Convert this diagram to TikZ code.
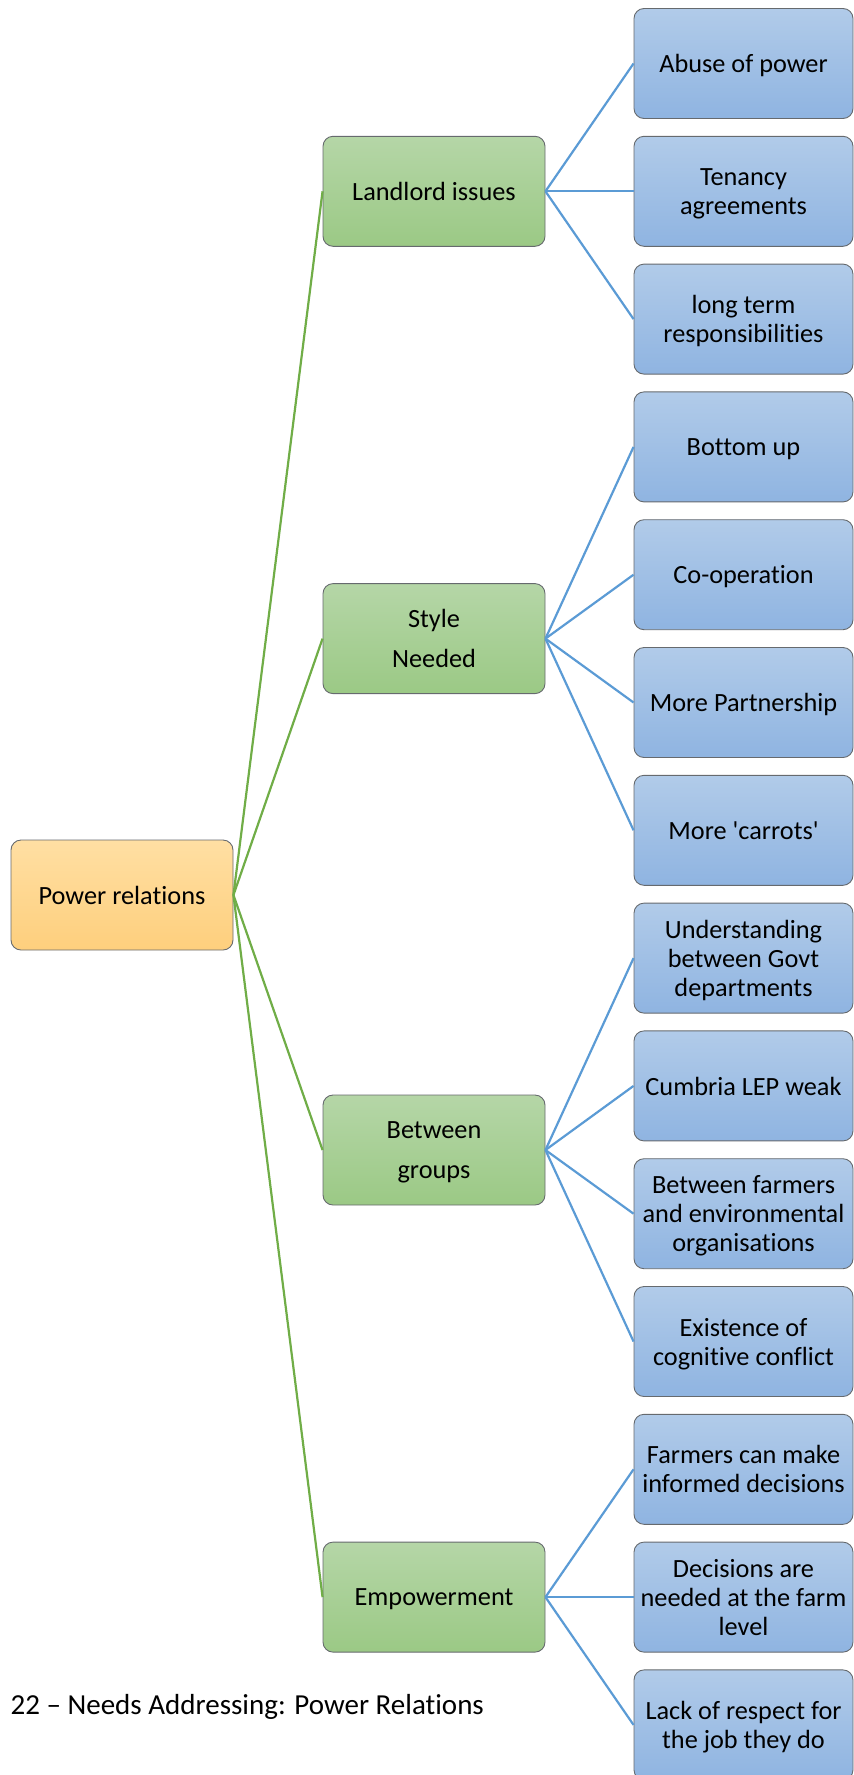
\documentclass[tikz,border=0pt]{standalone}
\usepackage{fontspec}
\newfontfamily\calfont{Carlito}[Ligatures=NoCommon]
\definecolor{rootA}{HTML}{FFDFA3}
\definecolor{rootB}{HTML}{FECF7D}
\definecolor{midA}{HTML}{B5D6A7}
\definecolor{midB}{HTML}{9BC985}
\definecolor{leafA}{HTML}{B1CBE9}
\definecolor{leafB}{HTML}{8FB4E1}
\definecolor{boxborder}{HTML}{666A6E}
\definecolor{lineG}{HTML}{70AD47}
\definecolor{lineB}{HTML}{5B9BD5}
\begin{document}
\begin{tikzpicture}[x=1pt,y=-1pt,
  box/.style={draw=boxborder, line width=0.9pt, rounded corners=10pt, align=center, inner sep=2pt, text depth=0pt, minimum height=110pt},
  rootbox/.style={box, top color=rootA, bottom color=rootB, minimum width=222pt, font=\calfont\fontsize{26.3}{29}\selectfont},
  midbox/.style={box, top color=midA, bottom color=midB, minimum width=222pt, font=\calfont\fontsize{26.3}{40.5}\selectfont},
  leafbox/.style={box, top color=leafA, bottom color=leafB, minimum width=219pt, font=\calfont\fontsize{26.3}{29}\selectfont},
  gline/.style={draw=lineG, line width=2.2pt},
  bline/.style={draw=lineB, line width=2.2pt}]
\useasboundingbox (0,0) rectangle (854,1775);

% root
\node[rootbox] (root) at (122,895) {Power relations};

% mid level
\node[midbox] (m1) at (434,191.3) {Landlord issues};
\node[midbox] (m2) at (434,638.6) {Style\\Needed};
\node[midbox] (m3) at (434,1150) {Between\\groups};
\node[midbox] (m4) at (434,1597.1) {Empowerment};

% leaves
\node[leafbox] (l0)  at (743.5,63.5)   {Abuse of power};
\node[leafbox] (l1)  at (743.5,191.3)  {Tenancy\\agreements};
\node[leafbox] (l2)  at (743.5,319.1)  {long term\\responsibilities};
\node[leafbox] (l3)  at (743.5,446.9)  {Bottom up};
\node[leafbox] (l4)  at (743.5,574.7)  {Co-operation};
\node[leafbox] (l5)  at (743.5,702.5)  {More Partnership};
\node[leafbox] (l6)  at (743.5,830.3)  {More 'carrots'};
\node[leafbox] (l7)  at (743.5,958.1)  {Understanding\\between Govt\\departments};
\node[leafbox] (l8)  at (743.5,1085.9) {Cumbria LEP weak};
\node[leafbox] (l9)  at (743.5,1213.7) {Between farmers\\and environmental\\organisations};
\node[leafbox] (l10) at (743.5,1341.5) {Existence of\\cognitive conflict};
\node[leafbox] (l11) at (743.5,1469.3) {Farmers can make\\informed decisions};
\node[leafbox] (l12) at (743.5,1597.1) {Decisions are\\needed at the farm\\level};
\node[leafbox] (l13) at (743.5,1724.9) {Lack of respect for\\the job they do};

% connectors
\foreach \m in {m1,m2,m3,m4} \draw[gline] (root.east) -- (\m.west);
\foreach \l in {l0,l1,l2} \draw[bline] (m1.east) -- (\l.west);
\foreach \l in {l3,l4,l5,l6} \draw[bline] (m2.east) -- (\l.west);
\foreach \l in {l7,l8,l9,l10} \draw[bline] (m3.east) -- (\l.west);
\foreach \l in {l11,l12,l13} \draw[bline] (m4.east) -- (\l.west);

% caption
\node[anchor=base east, inner sep=0pt, font=\calfont\fontsize{29}{32}\selectfont] (cap) at (484,1714) {22 – Needs Addressing: Power Relations};
\end{tikzpicture}
\end{document}
